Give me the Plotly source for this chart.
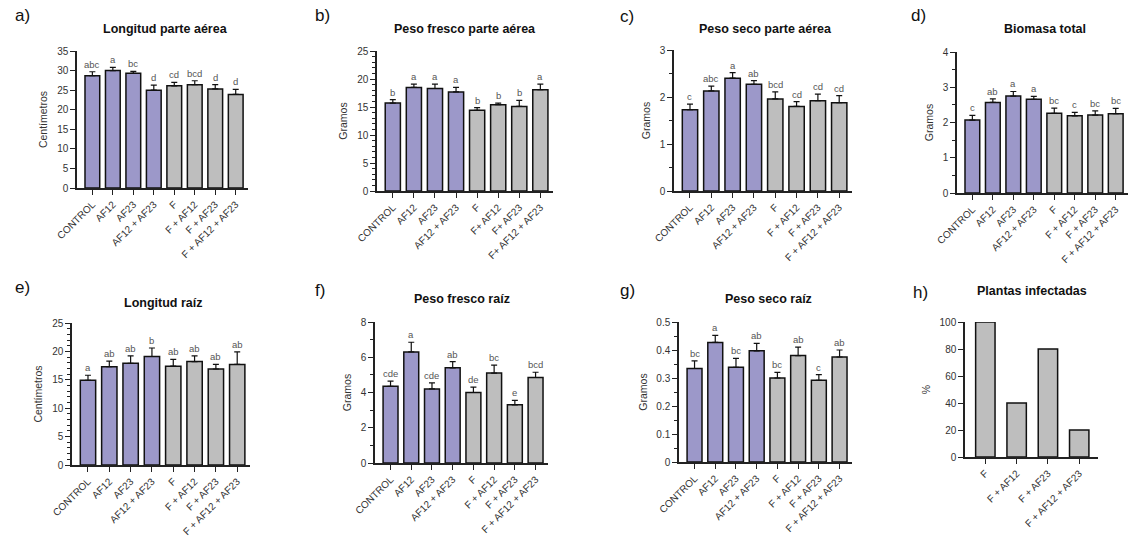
import plotly.graph_objects as go

# ---------------- data ----------------
categories = ["CONTROL", "AF12", "AF23", "AF12 + AF23", "F", "F + AF12", "F + AF23", "F + AF12 + AF23"]
categories_b = ["CONTROL", "AF12", "AF23", "AF12 + AF23", "F", "F+ AF12", "F+ AF23", "F+ AF12 + AF23"]
categories_h = ["F", "F + AF12", "F + AF23", "F + AF12 + AF23"]

longitud_aerea = [28.7, 30.0, 29.3, 25.0, 26.1, 26.4, 25.3, 23.9]
longitud_aerea_err = [1.0, 0.8, 0.5, 1.3, 0.9, 1.0, 1.1, 1.3]
longitud_aerea_let = ["abc", "a", "bc", "d", "cd", "bcd", "d", "d"]

fresco_aerea = [15.7, 18.5, 18.3, 17.7, 14.4, 15.4, 15.1, 18.1]
fresco_aerea_err = [0.6, 0.6, 0.8, 0.8, 0.5, 0.3, 1.1, 1.0]
fresco_aerea_let = ["b", "a", "a", "a", "b", "b", "b", "a"]

seco_aerea = [1.73, 2.13, 2.40, 2.27, 1.96, 1.80, 1.92, 1.88]
seco_aerea_err = [0.12, 0.10, 0.12, 0.08, 0.15, 0.10, 0.14, 0.15]
seco_aerea_let = ["c", "abc", "a", "ab", "bcd", "cd", "cd", "cd"]

biomasa = [2.07, 2.57, 2.75, 2.66, 2.26, 2.19, 2.21, 2.25]
biomasa_err = [0.13, 0.10, 0.13, 0.08, 0.15, 0.10, 0.12, 0.15]
biomasa_let = ["c", "ab", "a", "a", "bc", "c", "bc", "bc"]

longitud_raiz = [14.9, 17.3, 17.9, 19.1, 17.4, 18.2, 16.9, 17.7]
longitud_raiz_err = [0.9, 1.0, 1.3, 1.5, 1.2, 1.0, 0.8, 2.2]
longitud_raiz_let = ["a", "ab", "ab", "b", "ab", "ab", "ab", "ab"]

fresco_raiz = [4.35, 6.30, 4.20, 5.40, 4.00, 5.10, 3.30, 4.85]
fresco_raiz_err = [0.30, 0.55, 0.35, 0.35, 0.30, 0.45, 0.25, 0.30]
fresco_raiz_let = ["cde", "a", "cde", "ab", "de", "bc", "e", "bcd"]

seco_raiz = [0.334, 0.427, 0.338, 0.397, 0.300, 0.380, 0.292, 0.375]
seco_raiz_err = [0.027, 0.025, 0.032, 0.027, 0.020, 0.030, 0.020, 0.025]
seco_raiz_let = ["bc", "a", "bc", "ab", "bc", "ab", "c", "ab"]

infectadas = [100, 40, 80, 20]

# ---------------- style ----------------
W, H = 1132, 539
PURPLE = "#9c98c9"
GREY = "#bebebe"
FONT = "Liberation Sans, Arial, sans-serif"
colors8 = [PURPLE] * 4 + [GREY] * 4

panels = [
    dict(c=categories, v=longitud_aerea, e=longitud_aerea_err, l=longitud_aerea_let, t="Longitud parte aérea",
         yt="Centímetros", ymax=35, dt=5, mn=None, px=(77, 248), py=(51, 188), tp=(165, 29), lab="a)", lp=(22, 15), col=colors8),
    dict(c=categories_b, v=fresco_aerea, e=fresco_aerea_err, l=fresco_aerea_let, t="Peso fresco parte aérea",
         yt="Gramos", ymax=25, dt=5, mn=1, px=(377, 553), py=(51, 191), tp=(465, 29), lab="b)", lp=(322, 15), col=colors8),
    dict(c=categories, v=seco_aerea, e=seco_aerea_err, l=seco_aerea_let, t="Peso seco parte aérea",
         yt="Gramos", ymax=3, dt=1, mn=0.5, px=(674, 852), py=(50, 191), tp=(765, 29), lab="c)", lp=(627, 17), col=colors8),
    dict(c=categories, v=biomasa, e=biomasa_err, l=biomasa_let, t="Biomasa total",
         yt="Gramos", ymax=4, dt=1, mn=0.5, px=(957, 1128), py=(52, 193), tp=(1045, 29), lab="d)", lp=(918, 15), col=colors8),
    dict(c=categories, v=longitud_raiz, e=longitud_raiz_err, l=longitud_raiz_let, t="Longitud raíz",
         yt="Centímetros", ymax=25, dt=5, mn=1, px=(72, 250), py=(323, 465), tp=(163, 303), lab="e)", lp=(22, 287), col=colors8),
    dict(c=categories, v=fresco_raiz, e=fresco_raiz_err, l=fresco_raiz_let, t="Peso fresco raíz",
         yt="Gramos", ymax=8, dt=2, mn=1, px=(375, 548), py=(322, 463), tp=(462, 299), lab="f)", lp=(320, 290), col=colors8),
    dict(c=categories, v=seco_raiz, e=seco_raiz_err, l=seco_raiz_let, t="Peso seco raíz",
         yt="Gramos", ymax=0.5, dt=0.1, mn=0.05, px=(679, 852), py=(322, 462), tp=(768, 299), lab="g)", lp=(628, 290), col=colors8),
    dict(c=categories_h, v=infectadas, e=None, l=None, t="Plantas infectadas",
         yt="%", ymax=100, dt=20, mn=None, px=(965, 1098), py=(322, 457), tp=(1032, 291), lab="h)", lp=(920, 292), col=[GREY] * 4),
]

fig = go.Figure()
layout = dict(
    width=W, height=H, margin=dict(l=0, r=0, t=0, b=0, pad=0), autosize=False,
    paper_bgcolor="white", plot_bgcolor="white", showlegend=False,
    font=dict(family=FONT, color="#333"),
)
annotations = []

for i, p in enumerate(panels, start=1):
    xa = "x" if i == 1 else f"x{i}"
    ya = "y" if i == 1 else f"y{i}"
    n = len(p["c"])
    bar = go.Bar(
        x=p["c"], y=p["v"], xaxis=xa, yaxis=ya,
        marker=dict(color=p["col"], line=dict(color="#111", width=1.5)),
        width=0.72 if n == 8 else 0.62,
    )
    if p["e"] is not None:
        bar.error_y = dict(type="data", array=p["e"], arrayminus=[0] * n, symmetric=False,
                           color="#111", thickness=1.2, width=3)
    fig.add_trace(bar)

    if p["l"] is not None:
        for cat, v, e, txt in zip(p["c"], p["v"], p["e"], p["l"]):
            annotations.append(dict(x=cat, y=v + e, xref=xa, yref=ya, text=txt, showarrow=False,
                                    yanchor="bottom", yshift=0,
                                    font=dict(size=9.5, color="#555", family=FONT)))

    rng = [-0.75, n - 0.4] if n == 8 else [-0.65, n - 0.4]
    xkey = "xaxis" if i == 1 else f"xaxis{i}"
    ykey = "yaxis" if i == 1 else f"yaxis{i}"
    layout[xkey] = dict(
        domain=[p["px"][0] / W, p["px"][1] / W], anchor=ya, type="category", automargin=False,
        range=rng, showgrid=False, zeroline=False, showline=True, linecolor="#222", linewidth=1.5,
        ticks="outside", ticklen=5, tickwidth=1.2, tickcolor="#222", tickangle=-45,
        tickfont=dict(size=10, color="#333", family=FONT), fixedrange=True,
    )
    yax = dict(
        domain=[1 - p["py"][1] / H, 1 - p["py"][0] / H], anchor=xa, automargin=False,
        range=[0, p["ymax"]], dtick=p["dt"], tick0=0, showgrid=False, zeroline=False,
        showline=True, linecolor="#222", linewidth=1.5,
        ticks="outside", ticklen=5, tickwidth=1.2, tickcolor="#222",
        tickfont=dict(size=10, color="#333", family=FONT),
        title=dict(text=p["yt"], font=dict(size=10.5, color="#333", family=FONT), standoff=7),
    )
    if p["mn"] is not None:
        yax["minor"] = dict(dtick=p["mn"], ticks="outside", ticklen=3, tickwidth=1, tickcolor="#222", showgrid=False)
    layout[ykey] = yax

    annotations.append(dict(x=p["tp"][0] / W, y=1 - p["tp"][1] / H, xref="paper", yref="paper",
                            text=f"<b>{p['t']}</b>", showarrow=False, xanchor="center", yanchor="middle",
                            font=dict(size=12.5, color="#111", family=FONT)))
    annotations.append(dict(x=p["lp"][0] / W, y=1 - p["lp"][1] / H, xref="paper", yref="paper",
                            text=p["lab"], showarrow=False, xanchor="center", yanchor="middle",
                            font=dict(size=17, color="#111", family=FONT)))

layout["annotations"] = annotations
fig.update_layout(**layout)
fig.write_html("out.html", config={"displayModeBar": False},
               post_script="document.body.style.margin='0';")
